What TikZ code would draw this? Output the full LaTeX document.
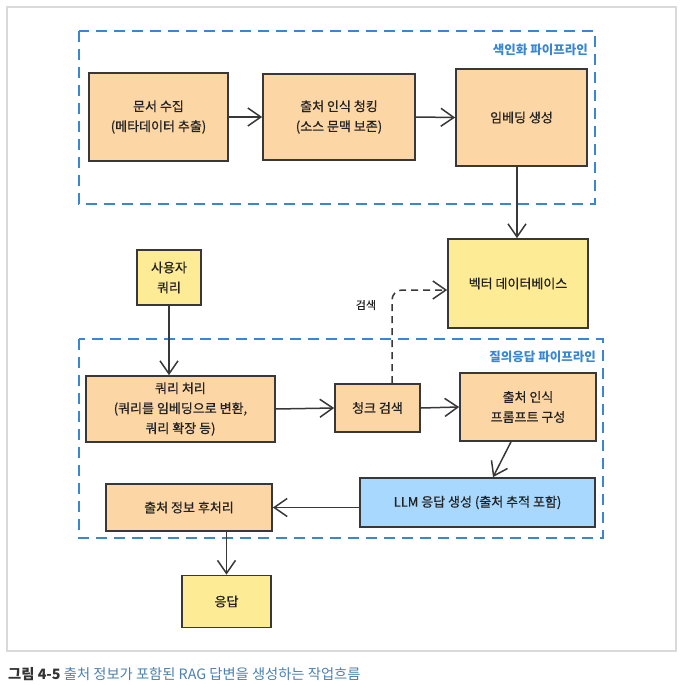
\documentclass[tikz,border=0pt]{standalone}
\usepackage{fontspec}
\setmainfont{Noto Sans CJK KR}
\newfontfamily\medkr{Noto Sans CJK KR}[FakeBold=0.7]
\usetikzlibrary{arrows.meta}
\definecolor{peach}{HTML}{FDD6A6}
\definecolor{lyellow}{HTML}{FEEB96}
\definecolor{lblue}{HTML}{A8D8FD}
\definecolor{pipeblue}{HTML}{3A86D1}
\definecolor{framegray}{HTML}{DADADA}
\definecolor{captblue}{HTML}{4C80AE}
\definecolor{txt}{HTML}{222222}
\begin{document}
\begin{tikzpicture}[x=1pt,y=-1pt,
  font=\medkr\fontsize{13}{20}\selectfont,
  box/.style={draw=black!78, line width=1.7pt, inner sep=0pt, align=center, text=txt},
  arr/.style={draw=black!78, line width=1.5pt, -{Straight Barb[length=13pt,width=18pt,line width=1.5pt]}},
  pipe/.style={draw=pipeblue, line width=2pt, dash pattern=on 11pt off 7pt},
  pipelabel/.style={text=pipeblue, font=\fontsize{12.5}{15}\selectfont\bfseries, anchor=east, inner sep=0pt}]
\useasboundingbox (0,0) rectangle (682,685);
\draw[framegray, line width=1.5pt] (7,7) rectangle (676,651);

% pipelines
\draw[pipe] (79,31) rectangle (595,204);
\node[pipelabel] (lblidx) at (588,50) {색인화 파이프라인};
\draw[pipe] (79,339) rectangle (603,538);
\node[pipelabel] (lblqa) at (596,357) {질의응답 파이프라인};

% indexing nodes
\node[box, fill=peach, minimum width=139pt, minimum height=88pt] (doc) at (158.5,117) {문서 수집\\(메타데이터 추출)};
\node[box, fill=peach, minimum width=152pt, minimum height=86pt] (chunk) at (339,117) {출처 인식 청킹\\(소스 문맥 보존)};
\node[box, fill=peach, minimum width=131pt, minimum height=97pt] (emb) at (521.5,117.5) {임베딩 생성};
\node[box, fill=lyellow, minimum width=140pt, minimum height=89pt] (vdb) at (518,283.5) {벡터 데이터베이스};
\node[box, fill=lyellow, minimum width=64pt, minimum height=55pt] (uq) at (169,277.5) {사용자\\쿼리};

% QA nodes
\node[box, fill=peach, minimum width=189pt, minimum height=66pt] (qp) at (180.5,409) {쿼리 처리\\(쿼리를 임베딩으로 변환,\\쿼리 확장 등)};
\node[box, fill=peach, minimum width=85pt, minimum height=48pt] (cs) at (377.5,408) {청크 검색};
\node[box, fill=peach, minimum width=136pt, minimum height=68pt] (pr) at (528,407) {출처 인식\\프롬프트 구성};
\node[box, fill=lblue, minimum width=235pt, minimum height=49pt] (llm) at (477.5,502.5) {LLM 응답 생성 (출처 추적 포함)};
\node[box, fill=peach, minimum width=166pt, minimum height=47pt] (pp) at (189,507.5) {출처 정보 후처리};
\node[box, fill=lyellow, minimum width=89pt, minimum height=52pt] (resp) at (226.5,601.5) {응답};

% connectors
\draw[arr] (doc.east) -- (chunk.west);
\draw[arr] (chunk.east) -- (emb.west);
\draw[arr] ([xshift=-4.5pt]emb.south) -- ([xshift=-1pt]vdb.north);
\draw[arr] (uq.south) -- (uq.south |- qp.north);
\draw[arr] (qp.east) -- (cs.west);
\draw[arr] (cs.east) -- (pr.west);
\draw[arr] ([xshift=-17pt]pr.south) -- ([xshift=15.5pt]llm.north);
\draw[arr] (llm.west |- pp.east) -- (pp.east);
\draw[arr] (resp.north |- pp.south) -- (resp.north);
\draw[arr, dash pattern=on 7pt off 5pt, rounded corners=10pt]
  ([xshift=14.5pt]cs.north) |- ([yshift=-6.5pt]vdb.west);
\node[text=txt, font=\medkr\fontsize{11}{13}\selectfont, inner sep=0pt] (lblsearch) at (366,305) {검색};

% caption
\node[anchor=base west, inner sep=0pt, font=\fontsize{14.3}{16}\selectfont] (cap) at (8,679)
  {{\bfseries\color{black!80}그림 4-5} \textcolor{captblue}{출처 정보가 포함된 RAG 답변을 생성하는 작업흐름}};
\end{tikzpicture}
\end{document}
